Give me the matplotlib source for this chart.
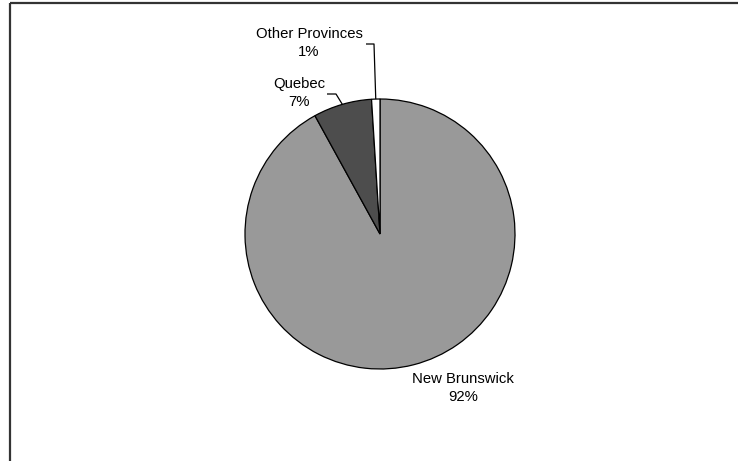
import matplotlib
matplotlib.use("Agg")
import matplotlib.pyplot as plt
import numpy as np

categories = ["New Brunswick", "Quebec", "Other Provinces"]
shares = [92, 7, 1]
colors = ["#999999", "#4d4d4d", "#ffffff"]

W, H = 738, 461
fig = plt.figure(figsize=(W / 100, H / 100), dpi=100)
ax = fig.add_axes([0, 0, 1, 1])

cx, cy, r = 380, H - 234, 135
wedges, _ = ax.pie(shares, colors=colors, startangle=90, counterclock=False,
                   center=(cx, cy), radius=r,
                   wedgeprops=dict(edgecolor="black", linewidth=0.9))
ax.set_xlim(0, W)
ax.set_ylim(0, H)
ax.set_aspect("equal")
ax.axis("off")

plt.rcParams["font.family"] = ["Liberation Sans", "DejaVu Sans"]
fs = 10.7

# label positions in pixel coordinates (x center, y center from top)
label_pos = {"New Brunswick": (463, 388),
             "Quebec": (299, 93),
             "Other Provinces": (309, 43)}
leader_start = {"Quebec": [(327, 94), (336, 94)],
                "Other Provinces": [(366, 44), (374, 44)]}

for w, cat, val in zip(wedges, categories, shares):
    lx, ly = label_pos[cat]
    ax.text(lx, H - ly, f"{cat}\n{val}%", ha="center", va="center",
            fontsize=fs, linespacing=1.45, family=["Liberation Sans", "DejaVu Sans"])
    if cat in leader_start:
        ang = np.deg2rad((w.theta1 + w.theta2) / 2)
        ex = cx + r * np.cos(ang)
        ey = cy + r * np.sin(ang)
        pts = leader_start[cat]
        xs = [p[0] for p in pts] + [ex]
        ys = [H - p[1] for p in pts] + [ey]
        ax.plot(xs, ys, color="black", linewidth=0.9, solid_capstyle="butt")

# chart frame (left and top edges visible)
ax.plot([10, 10], [0, H - 2.5], color="#333333", linewidth=1.6, solid_capstyle="butt")
ax.plot([10, W], [H - 2.5, H - 2.5], color="#333333", linewidth=1.6, solid_capstyle="butt")

fig.savefig("out.png", dpi=100)
